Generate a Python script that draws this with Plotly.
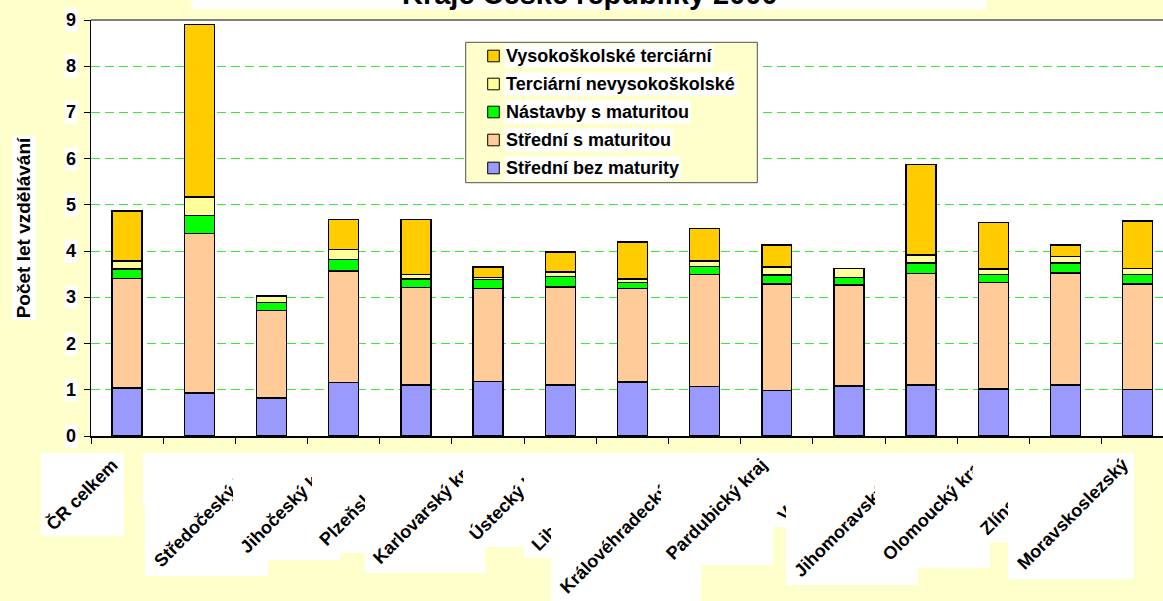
import plotly.graph_objects as go

# Categories: republic total followed by the regions
categories = [
    "ČR celkem", "Praha", "Středočeský kraj", "Jihočeský kraj", "Plzeňský kraj",
    "Karlovarský kraj", "Ústecký kraj", "Liberecký kraj", "Královéhradecký kraj",
    "Pardubický kraj", "Vysočina", "Jihomoravský kraj", "Olomoucký kraj",
    "Zlínský kraj", "Moravskoslezský",
]

# Years of education by level (stacked from the bottom)
stredni_bez_maturity = [1.04, 0.93, 0.82, 1.16, 1.10, 1.18, 1.10, 1.17, 1.07, 0.98, 1.08, 1.10, 1.02, 1.10, 1.01]
stredni_s_maturitou = [2.37, 3.45, 1.90, 2.41, 2.11, 2.01, 2.12, 2.02, 2.43, 2.31, 2.19, 2.42, 2.30, 2.43, 2.28]
nastavby_s_maturitou = [0.20, 0.39, 0.17, 0.25, 0.19, 0.20, 0.23, 0.13, 0.17, 0.19, 0.16, 0.22, 0.17, 0.21, 0.20]
terciarni_nevysokoskolske = [0.18, 0.40, 0.14, 0.21, 0.10, 0.04, 0.10, 0.08, 0.12, 0.18, 0.20, 0.18, 0.12, 0.15, 0.13]
vysokoskolske_terciarni = [1.08, 3.73, 0.00, 0.66, 1.19, 0.23, 0.43, 0.80, 0.70, 0.47, 0.00, 1.96, 1.01, 0.24, 1.03]

series_names = [
    "Střední bez maturity", "Střední s maturitou", "Nástavby s maturitou",
    "Terciární nevysokoškolské", "Vysokoškolské terciární",
]
series_values = [
    stredni_bez_maturity, stredni_s_maturitou, nastavby_s_maturitou,
    terciarni_nevysokoskolske, vysokoskolske_terciarni,
]
series_colors = ["#9999FF", "#FFCC99", "#00FF00", "#FFFF99", "#FFCC00"]

y_ticks = list(range(0, 10))
title_text = "Kraje České republiky 2000"
y_title = "Počet let vzdělávání"

# Page geometry (pixels)
FIG_W, FIG_H = 1163, 601
M_L, M_T, M_R, M_B = 91, 20, 0, 165
PLOT_W = FIG_W - M_L - M_R
PLOT_H = FIG_H - M_T - M_B


def px_x(px):
    return (px - M_L) / PLOT_W


def px_y(py):
    return (M_T + PLOT_H - py) / PLOT_H


FONT = "Arial, Liberation Sans, sans-serif"
BOLD18 = dict(family=FONT, size=18, color="black", weight="bold")

fig = go.Figure()
for name, vals, col in zip(series_names, series_values, series_colors):
    fig.add_trace(go.Bar(
        name=name, x=categories, y=vals,
        marker=dict(color=col, line=dict(color="black", width=1.4)),
        showlegend=False, hoverinfo="x+y+name",
    ))

shapes = []
annotations = []

# Plot area top border
shapes.append(dict(type="line", xref="paper", yref="paper", x0=0, x1=1, y0=1, y1=1,
                   line=dict(color="#808080", width=2), layer="above"))

# Title backdrop and text
shapes.append(dict(type="rect", xref="paper", yref="paper",
                   x0=px_x(191.5), x1=px_x(986.5), y0=px_y(9.3), y1=px_y(-10),
                   fillcolor="white", line=dict(width=0), layer="above"))
annotations.append(dict(text=title_text, xref="paper", yref="paper",
                        x=px_x(590), y=px_y(12), xanchor="center", yanchor="bottom",
                        showarrow=False, font=dict(family=FONT, size=29, color="black", weight="bold")))

# Y tick labels on white backing
for v in y_ticks:
    annotations.append(dict(text=str(v), xref="paper", yref="y", x=0, y=v,
                            xanchor="right", yanchor="middle", xshift=-13.5,
                            showarrow=False, bgcolor="white", borderpad=1, font=BOLD18))

# Y axis title
annotations.append(dict(text=y_title, xref="paper", yref="paper", x=px_x(23.3), y=px_y(228),
                        xanchor="center", yanchor="middle", textangle=-90,
                        showarrow=False, bgcolor="white", borderpad=1,
                        font=dict(family=FONT, size=19, color="black", weight="bold")))

# Category labels: each sits on its own white box; later boxes overlap earlier labels
label_box_size = [83, 52.5, 123, 107, 100, 120, 94, 105, 150, 112, 74, 132, 115, 89, 126]
for cat, size in zip(categories, label_box_size):
    annotations.append(dict(text=" ", xref="x", yref="paper", x=cat, y=0,
                            xanchor="right", yanchor="top", xshift=-3.5, yshift=-17,
                            width=size, height=size, bgcolor="white", borderpad=0,
                            borderwidth=0, showarrow=False, font=BOLD18))
    annotations.append(dict(text=cat, xref="x", yref="paper", x=cat, y=0,
                            xanchor="right", yanchor="top", xshift=-4.0, yshift=-17.5,
                            textangle=-45, borderpad=0, showarrow=False, font=BOLD18))

# Legend (top item is the top stack segment)
shapes.append(dict(type="rect", xref="paper", yref="paper",
                   x0=px_x(465.7), x1=px_x(757.3), y0=px_y(182.7), y1=px_y(42.3),
                   fillcolor="#FFFFCC", line=dict(color="#505050", width=1), layer="above"))
row_y = [56, 84, 112, 140, 168]
for ry, name, col in zip(row_y, series_names[::-1], series_colors[::-1]):
    shapes.append(dict(type="rect", xref="paper", yref="paper",
                       x0=px_x(487.7), x1=px_x(499.3), y0=px_y(ry + 5.8), y1=px_y(ry - 5.8),
                       fillcolor=col, line=dict(color="black", width=1), layer="above"))
    annotations.append(dict(text=name, xref="paper", yref="paper", x=px_x(503.5), y=px_y(ry),
                            xanchor="left", yanchor="middle", showarrow=False,
                            bgcolor="white", borderpad=1, font=BOLD18))

fig.update_layout(
    width=FIG_W, height=FIG_H,
    margin=dict(l=M_L, r=M_R, t=M_T, b=M_B, autoexpand=False),
    paper_bgcolor="#FFFFCC", plot_bgcolor="white",
    barmode="stack", bargap=0.585,
    showlegend=False,
    shapes=shapes, annotations=annotations,
    font=dict(family=FONT, size=18, color="black"),
)
fig.update_xaxes(
    type="category", range=[-0.5, 14.35], showticklabels=False,
    showline=True, linecolor="black", linewidth=1.5,
    ticks="outside", tickson="boundaries", ticklen=6, tickcolor="black", tickwidth=1,
    showgrid=False, zeroline=False, fixedrange=True,
)
fig.update_yaxes(
    range=[0, 9], tickvals=y_ticks, showticklabels=False,
    showline=True, linecolor="black", linewidth=1,
    ticks="outside", ticklen=6, tickcolor="black", tickwidth=1,
    showgrid=True, gridcolor="#33EE33", gridwidth=1, griddash="9px,5px",
    zeroline=False, fixedrange=True,
)

fig.write_html("out.html", config={"displayModeBar": False})
